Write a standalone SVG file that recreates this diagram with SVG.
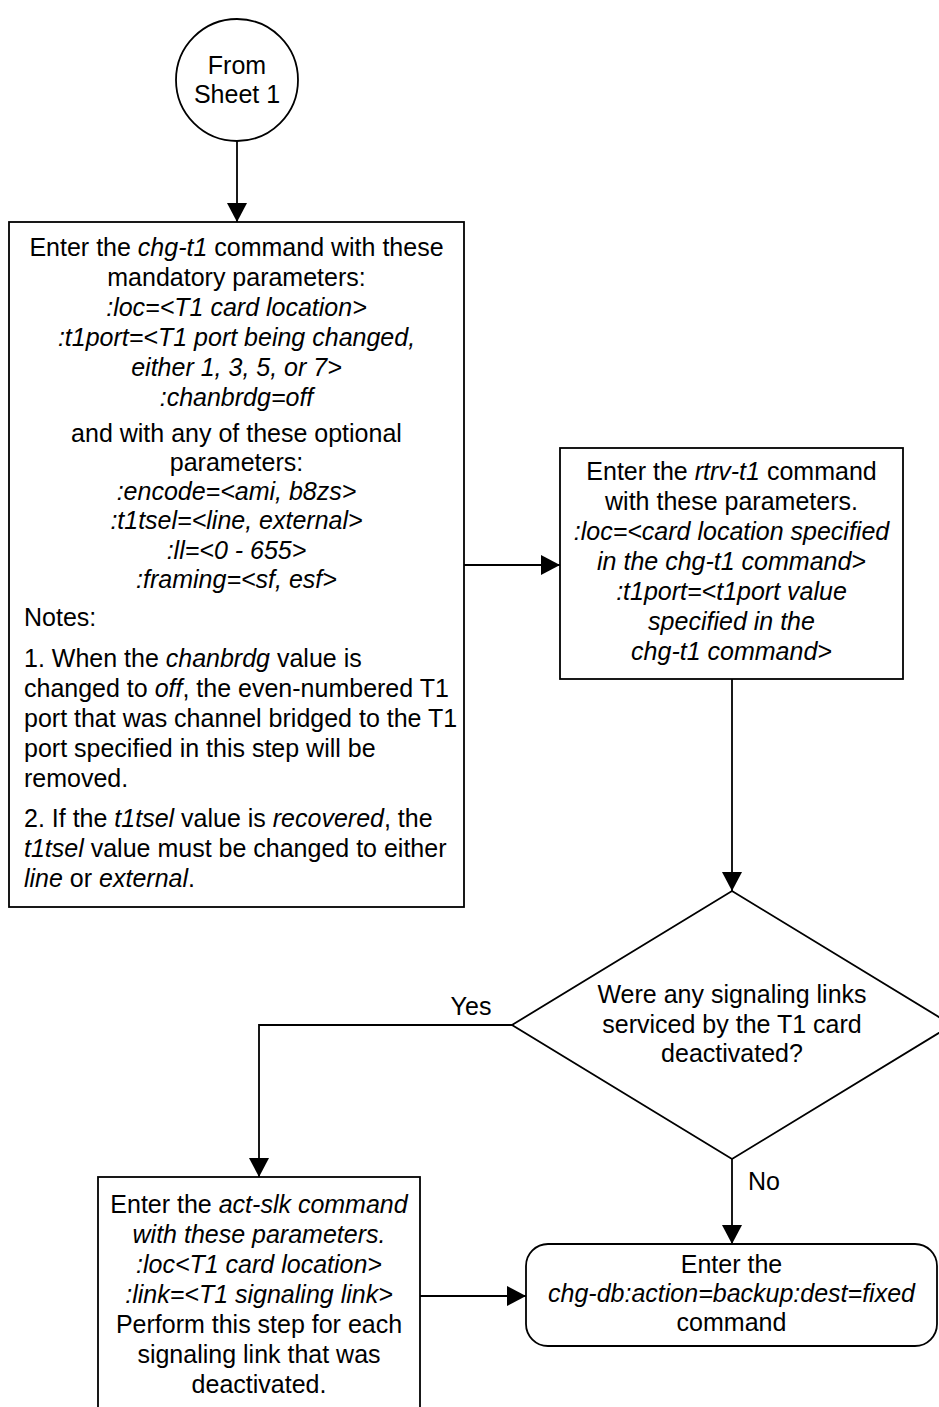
<svg xmlns="http://www.w3.org/2000/svg" width="939" height="1407" viewBox="0 0 939 1407">
<style>
.s{fill:#fff;stroke:#000;stroke-width:1.8}
.c{fill:none;stroke:#000;stroke-width:1.8}
text{font-family:"Liberation Sans",Arial,sans-serif;font-size:25px;fill:#000}
.m{text-anchor:middle}
.i{font-style:italic}
</style>
<defs>
<marker id="ah" markerUnits="userSpaceOnUse" markerWidth="20" markerHeight="20" refX="19" refY="10" orient="auto">
<path d="M0,0 L19,10 L0,20 Z" fill="#000"/>
</marker>
</defs>
<rect width="939" height="1407" fill="#fff"/>
<g id="connectors">
<path class="c" d="M237,141 L237,222" marker-end="url(#ah)"/>
<path class="c" d="M464,565 L560,565" marker-end="url(#ah)"/>
<path class="c" d="M732,679 L732,891" marker-end="url(#ah)"/>
<path class="c" d="M512,1025 L259,1025 L259,1177" marker-end="url(#ah)"/>
<path class="c" d="M732,1159 L732,1244" marker-end="url(#ah)"/>
<path class="c" d="M420,1296 L526,1296" marker-end="url(#ah)"/>
<text x="471" y="1015" class="m">Yes</text>
<text x="748" y="1190">No</text>
</g>
<g id="start">
<circle class="s" cx="237" cy="80" r="61"/>
<text x="237" y="74" class="m">From</text>
<text x="237" y="103" class="m">Sheet 1</text>
</g>
<g id="chg-t1">
<rect class="s" x="9" y="222" width="455" height="685"/>
<text x="236.5" y="255.5" class="m">Enter the <tspan class="i">chg-t1</tspan> command with these</text>
<text x="236.5" y="285.5" class="m">mandatory parameters:</text>
<text x="236.5" y="315.5" class="m i">:loc=&lt;T1 card location&gt;</text>
<text x="236.5" y="345.5" class="m i">:t1port=&lt;T1 port being changed,</text>
<text x="236.5" y="375.5" class="m i">either 1, 3, 5, or 7&gt;</text>
<text x="236.5" y="405.5" class="m i">:chanbrdg=off</text>
<text x="236.5" y="441.5" class="m">and with any of these optional</text>
<text x="236.5" y="471" class="m">parameters:</text>
<text x="236.5" y="500" class="m i">:encode=&lt;ami, b8zs&gt;</text>
<text x="236.5" y="529" class="m i">:t1tsel=&lt;line, external&gt;</text>
<text x="236.5" y="558.5" class="m i">:ll=&lt;0 - 655&gt;</text>
<text x="236.5" y="588" class="m i">:framing=&lt;sf, esf&gt;</text>
<text x="24" y="626">Notes:</text>
<text x="24" y="666.5">1. When the <tspan class="i">chanbrdg</tspan> value is</text>
<text x="24" y="696.5">changed to <tspan class="i">off</tspan>, the even-numbered T1</text>
<text x="24" y="726.5">port that was channel bridged to the T1</text>
<text x="24" y="756.5">port specified in this step will be</text>
<text x="24" y="786.5">removed.</text>
<text x="24" y="826.5">2. If the <tspan class="i">t1tsel</tspan> value is <tspan class="i">recovered</tspan>, the</text>
<text x="24" y="856.5"><tspan class="i">t1tsel</tspan> value must be changed to either</text>
<text x="24" y="886.5"><tspan class="i">line</tspan> or <tspan class="i">external</tspan>.</text>
</g>
<g id="rtrv-t1">
<rect class="s" x="560" y="448" width="343" height="231"/>
<text x="731.5" y="480" class="m">Enter the <tspan class="i">rtrv-t1</tspan> command</text>
<text x="731.5" y="510" class="m">with these parameters.</text>
<text x="731.5" y="540" class="m i">:loc=&lt;card location specified</text>
<text x="731.5" y="570" class="m i">in the chg-t1 command&gt;</text>
<text x="731.5" y="600" class="m i">:t1port=&lt;t1port value</text>
<text x="731.5" y="630" class="m i">specified in the</text>
<text x="731.5" y="660" class="m i">chg-t1 command&gt;</text>
</g>
<g id="decision">
<path class="s" d="M732,891 L952,1025 L732,1159 L512,1025 Z"/>
<text x="732" y="1003" class="m">Were any signaling links</text>
<text x="732" y="1032.5" class="m">serviced by the T1 card</text>
<text x="732" y="1062" class="m">deactivated?</text>
</g>
<g id="act-slk">
<rect class="s" x="98" y="1177" width="322" height="260"/>
<text x="259" y="1213" class="m">Enter the <tspan class="i">act-slk command</tspan></text>
<text x="259" y="1243" class="m i">with these parameters.</text>
<text x="259" y="1273" class="m i">:loc&lt;T1 card location&gt;</text>
<text x="259" y="1303" class="m i">:link=&lt;T1 signaling link&gt;</text>
<text x="259" y="1333" class="m">Perform this step for each</text>
<text x="259" y="1363" class="m">signaling link that was</text>
<text x="259" y="1393" class="m">deactivated.</text>
</g>
<g id="chg-db">
<rect class="s" x="526" y="1244" width="411" height="102" rx="22" ry="22"/>
<text x="731.5" y="1273" class="m">Enter the</text>
<text x="731.5" y="1302" class="m i">chg-db:action=backup:dest=fixed</text>
<text x="731.5" y="1331" class="m">command</text>
</g>
</svg>
